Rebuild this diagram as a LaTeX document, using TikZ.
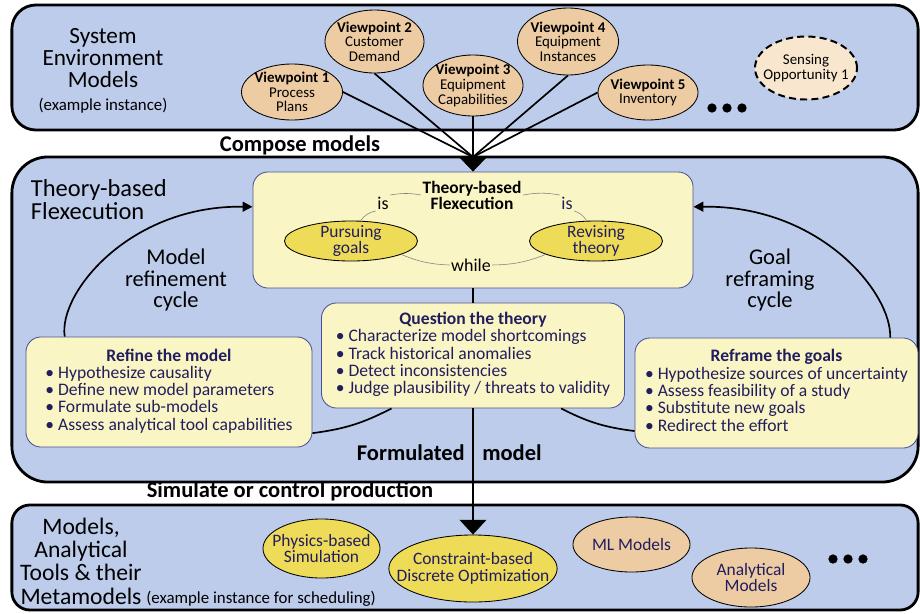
\documentclass[tikz,border=0pt]{standalone}
\usepackage{fontspec}
\setmainfont{Carlito}
\usepackage{xcolor}
\usetikzlibrary{shapes.geometric, arrows.meta, positioning}

\definecolor{layerblue}{HTML}{BDCCEB}
\definecolor{paleyellow}{HTML}{FAF5C4}
\definecolor{goldfill}{HTML}{EEDB58}
\definecolor{tanfill}{HTML}{EDCBA3}
\definecolor{palefill}{HTML}{F8E6CF}
\definecolor{panelline}{HTML}{4A4F96}
\definecolor{inkblue}{HTML}{221E5E}

\begin{document}
\begin{tikzpicture}[x=0.025cm, y=-0.025cm]
    \tikzstyle{layer} = [rectangle, draw=black, line width=2pt, fill=layerblue]
    \tikzstyle{panel} = [rectangle, draw=panelline, line width=0.6pt, fill=paleyellow, rounded corners=0.375cm, inner sep=0pt, align=center, text=inkblue, font=\fontsize{12.5}{12.2}\selectfont]
    \tikzstyle{viewpoint} = [ellipse, draw=black, line width=0.6pt, fill=tanfill, inner sep=-12pt, align=center, font=\fontsize{10.6}{10.4}\selectfont]
    \tikzstyle{tool} = [ellipse, draw=black, line width=0.6pt, inner sep=-12pt, align=center, text=inkblue, font=\fontsize{12.4}{11.8}\selectfont]
    \tikzstyle{heading} = [align=center, font=\fontsize{16}{15}\selectfont]
    \tikzstyle{flowlabel} = [font=\fontsize{16}{16}\selectfont\bfseries]
    \tikzstyle{word} = [inner sep=1pt, font=\fontsize{12.8}{12.8}\selectfont]
    \tikzstyle{link} = [draw=black, line width=1.2pt]
    \tikzstyle{note} = [draw=gray, line width=0.4pt]

    \useasboundingbox (0,0) rectangle (920,613);

    % the three layers
    \node (envbox) [layer, rounded corners=0.6cm, minimum width=22.65cm, minimum height=3.125cm] at (465,67.5) {};
    \node (flexbox) [layer, rounded corners=0.9cm, minimum width=22.65cm, minimum height=8.125cm] at (465,319.5) {};
    \node (toolbox) [layer, rounded corners=0.45cm, minimum width=22.65cm, minimum height=2.625cm] at (465,557.5) {};

    % system environment models
    \node (envlbl) [align=center, font=\fontsize{16.5}{15.6}\selectfont] at (103,71) {System\\Environment\\Models\\[1pt]{\fontsize{12}{14}\selectfont (example instance)}};
    \node (vp1) [viewpoint, minimum width=2.525cm, minimum height=1.4cm] at (292,92) {\textbf{Viewpoint 1}\\Process\\Plans};
    \node (vp2) [viewpoint, minimum width=2.475cm, minimum height=1.575cm] at (374.5,41.5) {\textbf{Viewpoint 2}\\Customer\\Demand};
    \node (vp3) [viewpoint, minimum width=2.5cm, minimum height=1.525cm] at (473,85.5) {\textbf{Viewpoint 3}\\Equipment\\Capabilities};
    \node (vp4) [viewpoint, minimum width=2.525cm, minimum height=1.675cm] at (568,41.5) {\textbf{Viewpoint 4}\\Equipment\\Instances};
    \node (vp5) [viewpoint, minimum width=2.5cm, minimum height=1.375cm] at (648,92.5) {\textbf{Viewpoint 5}\\Inventory};
    \node (sense) [viewpoint, line width=1.4pt, dash pattern=on 5pt off 3pt, fill=palefill, minimum width=2.55cm, minimum height=1.575cm] at (806,68) {Sensing\\Opportunity 1};
    \fill (712,108) circle (3.3pt);
    \fill (727,108) circle (3.3pt);
    \fill (742,108) circle (3.3pt);

    \coordinate (jn) at (473,157);
    \node (compose) [flowlabel] at (300,145) {Compose models};

    % theory-based flexecution
    \node (flexlbl) [anchor=west, align=left, font=\fontsize{17.4}{16.4}\selectfont] at (26,200) {Theory-based\\Flexecution};
    \node (tfx) [panel, minimum width=11cm, minimum height=2.9cm] at (473,230) {};
    \node (tbf) [align=center, inner sep=1pt, font=\fontsize{12.4}{11.4}\selectfont\bfseries] at (472,195) {Theory-based\\Flexecution};
    \node (isL) [word] at (383,203) {is};
    \node (isR) [word, text=inkblue] at (567,203) {is};
    \node (pgoal) [tool, fill=goldfill, minimum width=3.325cm, minimum height=1cm] at (351,241) {Pursuing\\goals};
    \node (rgoal) [tool, fill=goldfill, minimum width=3.325cm, minimum height=1cm] at (596,241) {Revising\\theory};
    \node (wh) [word] at (471,265) {while};

    \node (qth) [panel, minimum width=7.575cm, minimum height=2.625cm] at (473,355.5) {\textbf{Question the theory}\\\begin{tabular}[t]{@{}l@{}}• Characterize model shortcomings\\• Track historical anomalies\\• Detect inconsistencies\\• Judge plausibility / threats to validity\end{tabular}};
    \node (rfm) [panel, minimum width=7.15cm, minimum height=2.75cm] at (169,392) {\textbf{Refine the model}\\\begin{tabular}[t]{@{}l@{}}• Hypothesize causality\\• Define new model parameters\\• Formulate sub-models\\• Assess analytical tool capabilities\end{tabular}};
    \node (rfg) [panel, minimum width=7.075cm, minimum height=2.75cm] at (776.5,393) {\textbf{Reframe the goals}\\\begin{tabular}[t]{@{}l@{}}• Hypothesize sources of uncertainty\\• Assess feasibility of a study\\• Substitute new goals\\• Redirect the effort\end{tabular}};

    \node (mrc) [heading] at (176,280) {Model\\refinement\\cycle};
    \node (grc) [heading] at (770,280) {Goal\\reframing\\cycle};

    \node (fml) [flowlabel, anchor=east, inner sep=0pt] at (465,453) {Formulated};
    \node (mdl) [flowlabel, anchor=west, inner sep=0pt] at (482,453) {model};
    \node (sim) [flowlabel] at (290,491) {Simulate or control production};

    % models, analytical tools and metamodels
    \node (mdlbl) [align=center, font=\fontsize{16.8}{16.6}\selectfont] at (81,561) {Models,\\Analytical\\Tools \& their\\Metamodels};
    \node (mdlsub) [anchor=base west, inner sep=0pt, font=\fontsize{12}{14}\selectfont] at (146,603) {(example instance for scheduling)};
    \node (phys) [tool, fill=goldfill, minimum width=2.925cm, minimum height=1.475cm] at (321.5,548.5) {Physics-based\\Simulation};
    \node (cdo) [tool, fill=goldfill, minimum width=4.2cm, minimum height=1.675cm] at (473,568.5) {Constraint-based\\Discrete Optimization};
    \node (ml) [tool, fill=tanfill, minimum width=2.925cm, minimum height=1.375cm] at (631.5,544.5) {ML Models};
    \node (anm) [tool, fill=tanfill, minimum width=2.95cm, minimum height=1.475cm] at (751,577.5) {Analytical\\Models};
    \fill (833,559) circle (3.3pt);
    \fill (848,559) circle (3.3pt);
    \fill (863,559) circle (3.3pt);

    % compose the viewpoints
    \draw[link] (vp1.east) -- (jn);
    \draw[link] (vp2.south) -- (jn);
    \draw[link] (vp3.south) -- (jn);
    \draw[link] (vp4.south) -- (jn);
    \draw[link] (vp5.west) -- (jn);
    \draw[link, -{Triangle[width=19pt,length=10pt]}] (jn) -- (tfx.north);

    % small links inside the flexecution box
    \draw[note] (isL.north east) to[bend left=10] (tbf.west);
    \draw[note] (tbf.east) to[bend left=10] (isR.north west);
    \draw[note] (isL.south west) to[bend right=20] (pgoal.65);
    \draw[note] (isR.south east) to[bend left=20] (rgoal.115);
    \draw[note] (pgoal.-15) to[bend right=10] (wh.west);
    \draw[note] (wh.east) to[bend right=10] (rgoal.195);

    % the two cycles
    \draw[link, -{Triangle[width=7pt,length=7pt]}] (rfm.152) .. controls (58,293) and (130,205) .. (tfx.174);
    \draw[link] (qth.213) to[bend left=10] (rfm.344);
    \draw[link, -{Triangle[width=7pt,length=7pt]}] (rfg.26) .. controls (892,293) and (820,205) .. (tfx.6);
    \draw[link] (qth.-31) to[bend right=10] (rfg.195);

    % formulated model goes down
    \draw[link] (tfx.south) -- (qth.north);
    \draw[link, -{Triangle[width=19pt,length=10.5pt]}] (qth.south) -- (qth.south |- cdo.north);
\end{tikzpicture}
\end{document}
